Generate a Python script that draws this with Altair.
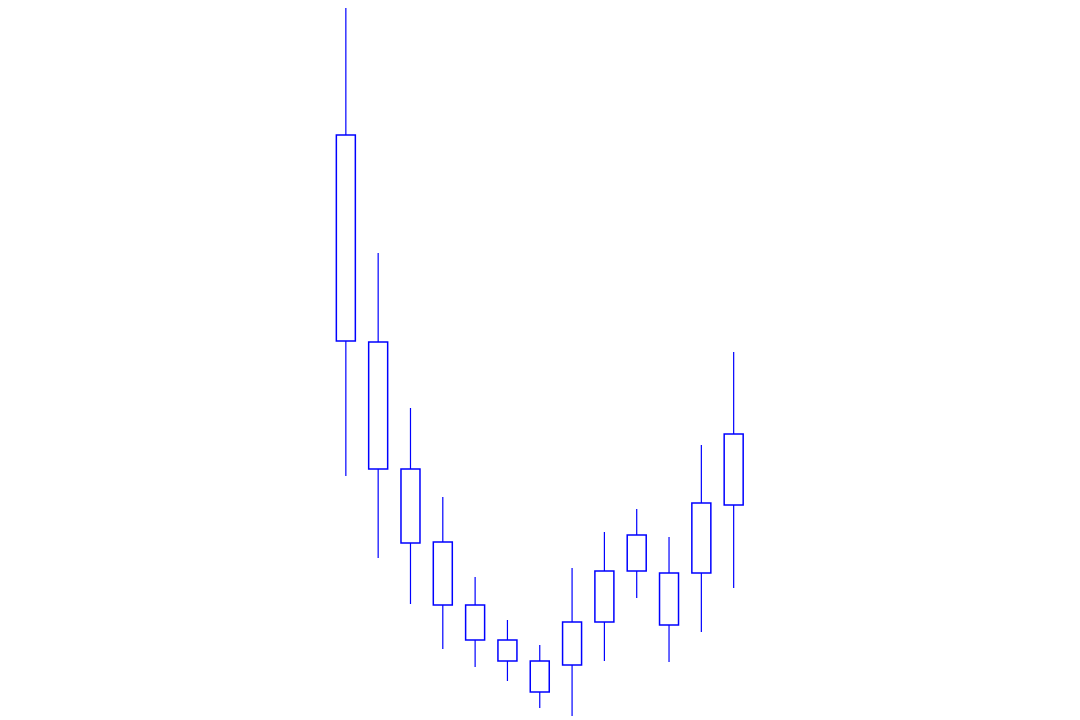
import altair as alt
import pandas as pd

# Candle index (trading periods)
period = list(range(1, 14))
# Prices
open_ = [58.5, 37.8, 25.1, 17.8, 11.5, 8.0, 5.9, 5.5, 9.8, 14.9, 14.7, 14.7, 21.5]
close = [37.9, 25.1, 17.7, 11.5, 8.0, 5.9, 2.8, 9.8, 14.9, 18.5, 9.5, 21.7, 28.6]
high = [74.0, 46.7, 31.2, 22.3, 14.3, 10.0, 7.5, 15.2, 18.8, 21.1, 18.3, 27.5, 36.8]
low = [24.4, 16.2, 11.6, 7.1, 5.3, 3.9, 1.2, -1.0, 5.9, 12.2, 5.8, 8.8, 13.2]

df = pd.DataFrame({"period": period, "open": open_, "close": close,
                   "high": high, "low": low})

xs = alt.Scale(domain=[-9.299, 23.314], nice=False, zero=False)
ys = alt.Scale(domain=[0.4, 71.2], nice=False, zero=False)

base = alt.Chart(df)

wicks = base.mark_rule(color="blue", strokeWidth=1.2, clip=True).encode(
    x=alt.X("period:Q", scale=xs, axis=None),
    y=alt.Y("low:Q", scale=ys, axis=None),
    y2="high:Q",
)

bodies = base.mark_bar(size=19, fill="white", stroke="blue",
                       strokeWidth=1.5, clip=True).encode(
    x=alt.X("period:Q", scale=xs, axis=None),
    y=alt.Y("open:Q", scale=ys, axis=None),
    y2="close:Q",
)

chart = (wicks + bodies).properties(
    width=1064, height=708,
    autosize=alt.AutoSizeParams(type="none"),
    padding=0,
).configure_view(stroke=None)

chart.save("out.html", embed_options={"renderer": "svg", "actions": False})
